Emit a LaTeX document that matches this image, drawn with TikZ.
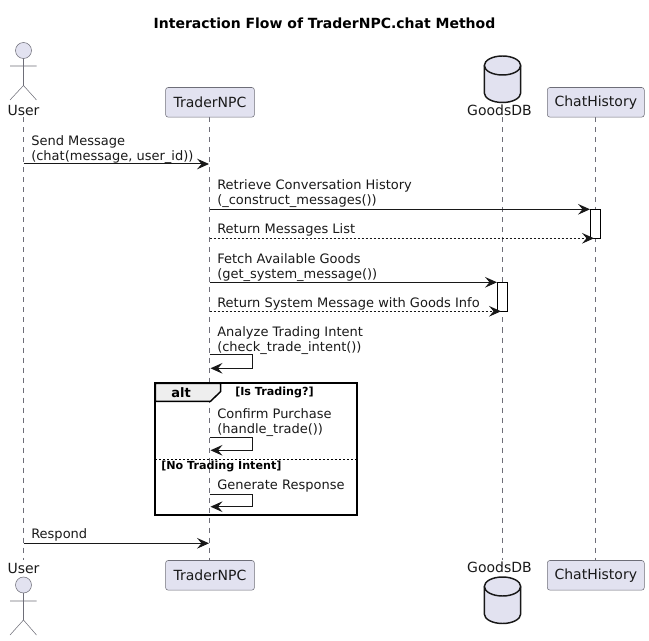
\documentclass[tikz,border=0pt]{standalone}
\usepackage{fontspec}
\setmainfont{DejaVu Sans}
\usetikzlibrary{arrows.meta}
\definecolor{pfill}{HTML}{E2E2F0}
\definecolor{pline}{HTML}{181818}
\definecolor{thinline}{HTML}{6E6E78}
\definecolor{tabfill}{HTML}{EEEEEE}
\newcommand{\fl}{\rule{0pt}{7.8pt}}
\newcommand{\lowered}[1]{\raisebox{-0.7pt}{#1}}
\tikzset{
  seqarrow/.style={-{Stealth[length=9pt,width=8pt,inset=3.4pt]},line width=0.75pt,draw=pline},
  retarrow/.style={seqarrow,dash pattern=on 1.5pt off 1.5pt},
  lifeline/.style={draw=thinline,line width=0.4pt,dash pattern=on 3.75pt off 3.75pt},
  partbox/.style={draw=thinline,line width=0.4pt,fill=pfill,rounded corners=1.9pt,minimum height=22.2pt,inner sep=0pt,font=\fontsize{10.5}{12}\selectfont,text=black!90},
  actorshape/.style={draw=thinline,line width=0.4pt,fill=pfill},
  dbshape/.style={draw=pline,line width=1.1pt,fill=pfill},
  plainlabel/.style={inner sep=0pt,font=\fontsize{10.5}{12}\selectfont,text=black!90},
  msg/.style={anchor=north west,inner sep=0pt,align=left,font=\fontsize{9.75}{11.25}\selectfont,text=black!90},
  activation/.style={draw=black,line width=0.75pt,fill=white},
  framebox/.style={draw=black,line width=1.5pt},
  guard/.style={inner sep=0pt,font=\fontsize{8.35}{10}\bfseries\selectfont},
}
\begin{document}
\begin{tikzpicture}[x=0.75pt,y=-0.75pt]
\useasboundingbox (0,0) rectangle (649,641);
\node[inner sep=0pt,font=\fontsize{10.5}{12}\bfseries\selectfont] (title) at (324.5,23) {Interaction Flow of TraderNPC.chat Method};
% lifeline ends
\coordinate (uA) at (23.5,117.5); \coordinate (uZ) at (23.5,560);
\coordinate (nA) at (209.5,117.5); \coordinate (nZ) at (209.5,560);
\coordinate (dA) at (502.5,117.5); \coordinate (dZ) at (502.5,560);
\coordinate (hA) at (595.5,117.5); \coordinate (hZ) at (595.5,560);
\draw[lifeline] (uA) -- (uZ);
\draw[lifeline] (nA) -- (nZ);
\draw[lifeline] (dA) -- (dZ);
\draw[lifeline] (hA) -- (hZ);
% participants
\node[partbox,minimum width=66.6pt] (npcT) at (210,102.3) {\lowered{TraderNPC}};
\node[partbox,minimum width=66.6pt] (npcB) at (210,575.3) {\lowered{TraderNPC}};
\node[partbox,minimum width=72.7pt] (histT) at (595.8,102.3) {\lowered{ChatHistory}};
\node[partbox,minimum width=72.7pt] (histB) at (595.8,575.3) {\lowered{ChatHistory}};
\node[plainlabel] (userT) at (23.5,110) {User};
\node[plainlabel] (userB) at (23.5,568) {User};
\node[plainlabel] (dbT) at (499.5,110) {GoodsDB};
\node[plainlabel] (dbB) at (499.5,567.5) {GoodsDB};
% actors
\draw[actorshape] (23.5,50.5) circle (8);
\draw[draw=thinline,line width=0.4pt] (23.5,58.5) -- (23.5,85.5) (10,66) -- (36.5,66) (10,100) -- (23.5,85.5) -- (36.5,100);
\draw[actorshape] (23.5,585) circle (8);
\draw[draw=thinline,line width=0.4pt] (23.5,593) -- (23.5,620) (10,601) -- (36.5,601) (10,635) -- (23.5,620) -- (36.5,635);
% databases
\draw[dbshape] (484.3,65.5) arc[x radius=18.2,y radius=9.5,start angle=180,end angle=360] -- (520.7,93) arc[x radius=18.2,y radius=9.5,start angle=0,end angle=180] -- cycle;
\draw[draw=pline,line width=1.1pt] (484.3,65.5) arc[x radius=18.2,y radius=9.5,start angle=180,end angle=0];
\draw[dbshape] (484.3,586.5) arc[x radius=18.2,y radius=9.5,start angle=180,end angle=360] -- (520.7,614) arc[x radius=18.2,y radius=9.5,start angle=0,end angle=180] -- cycle;
\draw[draw=pline,line width=1.1pt] (484.3,586.5) arc[x radius=18.2,y radius=9.5,start angle=180,end angle=0];
% activations
\coordinate (a1t) at (590.3,209.3); \coordinate (a1b) at (600.7,238.3);
\coordinate (a2t) at (497.3,282.3); \coordinate (a2b) at (507.7,311.3);
\draw[activation] (a1t) rectangle (a1b);
\draw[activation] (a2t) rectangle (a2b);
% messages
\coordinate (m1a) at (23.5,164); \coordinate (m1b) at (209,164);
\coordinate (m2a) at (209.5,209.3); \coordinate (m2b) at (590,209.3);
\coordinate (m3a) at (209.5,238.3); \coordinate (m3b) at (594,238.3);
\coordinate (m4a) at (209.5,282.3); \coordinate (m4b) at (497,282.3);
\coordinate (m5a) at (209.5,311.3); \coordinate (m5b) at (501,311.3);
\coordinate (m9a) at (23.5,543.3); \coordinate (m9b) at (209,543.3);
\draw[seqarrow] (m1a) -- (m1b);
\draw[seqarrow] (m2a) -- (m2b);
\draw[retarrow] (m3a) -- (m3b);
\draw[seqarrow] (m4a) -- (m4b);
\draw[retarrow] (m5a) -- (m5b);
\draw[seqarrow] (m9a) -- (m9b);
% self messages
\coordinate (s1a) at (209.5,354.3); \coordinate (s1c) at (252.7,354.3); \coordinate (s1d) at (252.7,368.3); \coordinate (s1b) at (210.5,368.3);
\coordinate (s2a) at (209.5,437.3); \coordinate (s2c) at (252.7,437.3); \coordinate (s2d) at (252.7,450.3); \coordinate (s2b) at (210.5,450.3);
\coordinate (s3a) at (209.5,494.7); \coordinate (s3c) at (252.7,494.7); \coordinate (s3d) at (252.7,506.7); \coordinate (s3b) at (210.5,506.7);
\draw[seqarrow] (s1a) -- (s1c) -- (s1d) -- (s1b);
\draw[seqarrow] (s2a) -- (s2c) -- (s2d) -- (s2b);
\draw[seqarrow] (s3a) -- (s3c) -- (s3d) -- (s3b);
% frame
\draw[fill=tabfill,draw=black,line width=1.1pt] (155.3,383.3) -- (220.7,383.3) -- (220.7,391.5) -- (210.5,401.3) -- (155.3,401.3) -- cycle;
\draw[framebox] (155.3,383.3) rectangle (356.7,515.3);
\draw[draw=black,line width=0.75pt,dash pattern=on 1.5pt off 1.5pt] (155.3,459.3) -- (356.7,459.3);
\node[inner sep=0pt,font=\fontsize{9.75}{11}\bfseries\selectfont] (altlabel) at (181,392.5) {alt};
\node[guard,anchor=west] (g1) at (235,392.8) {[Is Trading?]};
\node[guard,anchor=west] (g2) at (161,466.8) {[No Trading Intent]};
% message labels
\node[msg] (t1) at (31,135) {\fl Send Message\\(chat(message, user\_id))};
\node[msg] (t2) at (217,178.5) {\fl Retrieve Conversation History\\(\_construct\_messages())};
\node[msg] (t3) at (217,222.5) {\fl Return Messages List};
\node[msg] (t4) at (217,252.5) {\fl Fetch Available Goods\\(get\_system\_message())};
\node[msg] (t5) at (217,297) {\fl Return System Message with Goods Info};
\node[msg] (t6) at (217,326) {\fl Analyze Trading Intent\\(check\_trade\_intent())};
\node[msg] (t7) at (217,407.5) {\fl Confirm Purchase\\(handle\_trade())};
\node[msg] (t8) at (217,479) {\fl Generate Response};
\node[msg] (t9) at (31,528) {\fl Respond};
\end{tikzpicture}
\end{document}
